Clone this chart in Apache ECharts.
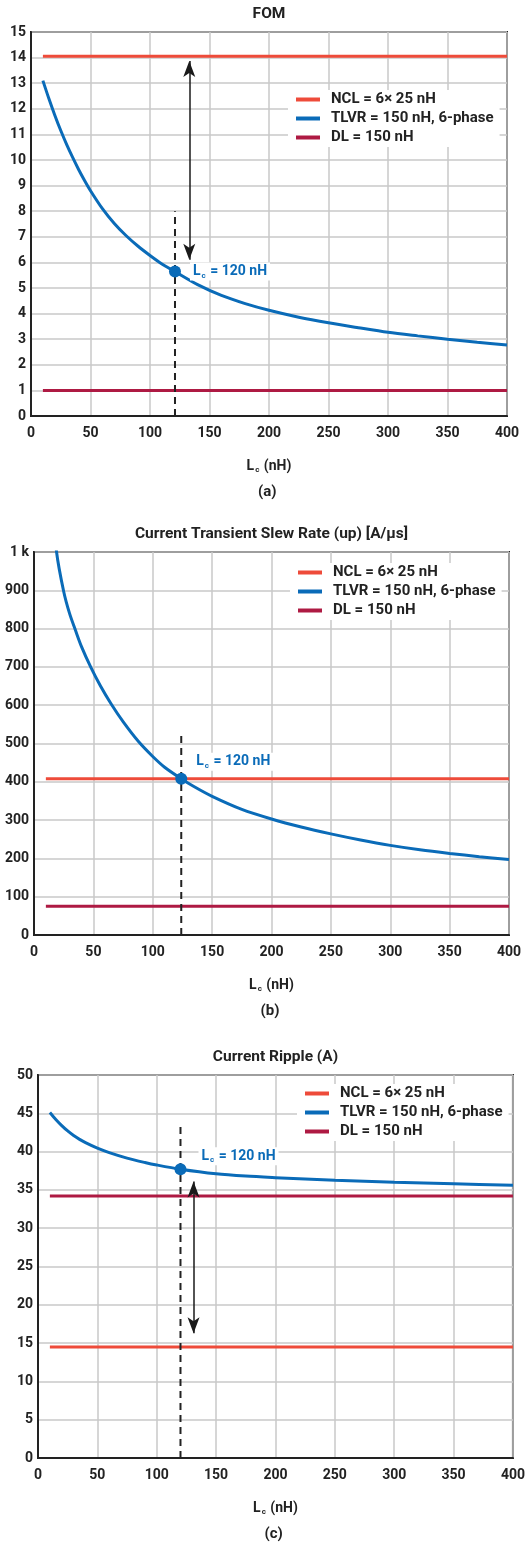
<!DOCTYPE html>
<html><head><meta charset="utf-8">
<script src="https://cdn.jsdelivr.net/npm/echarts@6/dist/echarts.min.js"></script>
<style>html,body{margin:0;padding:0;background:#fff}#c{width:528px;height:1543px}</style>
</head><body><div id="c"></div>
<script>
// ---------- DATA ----------
const seriesNames = ['NCL = 6\u00d7 25 nH', 'TLVR = 150 nH, 6-phase', 'DL = 150 nH'];
const titles = ['FOM', 'Current Transient Slew Rate (up) [A/\u00b5s]', 'Current Ripple (A)'];
const panelTags = ['(a)', '(b)', '(c)'];
const lineStart = 10, lineEnd = 400;

// (a) FOM
const lcA = [10,15,20,25,30,35,40,45,50,60,70,80,90,100,110,121,140,160,180,200,225,250,275,300,325,350,375,400];
const fomTLVR = [13.1,12.4,11.75,11.15,10.6,10.1,9.63,9.2,8.8,8.1,7.52,7.04,6.63,6.27,5.94,5.64,5.13,4.71,4.39,4.13,3.86,3.64,3.45,3.27,3.13,3.0,2.88,2.77];
const fomNCL = 14.05, fomDL = 1.0;
const fomMarker = [121, 5.64], fomDashTop = 8.0;
const fomArrow = [133, 13.87, 6.1];

// (b) slew rate
const lcB = [10,15,19,25,30,35,40,48,56,65,75,88,100,110,124,135,150,175,200,225,250,275,300,325,350,375,400];
const srTLVR = [1400,1150,1000,897,839,795,753,698,650,603,557,505,466,438,408,387,362,328,303,282,264,248,234,222.5,213,204.5,197];
const srNCL = 408, srDL = 75;
const srMarker = [124, 408], srDashTop = 530;

// (c) ripple
const lcC = [10,15,20,25,30,35,40,50,60,75,90,100,120,150,175,200,250,300,350,400];
const ripTLVR = [45.1,44.2,43.4,42.7,42.1,41.6,41.17,40.45,39.87,39.15,38.58,38.25,37.7,37.1,36.8,36.6,36.25,36.0,35.8,35.6];
const ripNCL = 14.5, ripDL = 34.2;
const ripMarker = [120, 37.7], ripDashTop = 43.3;
const ripArrow = [131, 36.1, 16.3];

// y axis ranges
const yMax = [15, 1000, 50], yInt = [1, 100, 5];

// ---------- STYLE ----------
const FONT = 'Roboto';
const C_NCL = '#EE4B3A', C_TLVR = '#0A6BB8', C_DL = '#AE1A43', C_DARK = '#222222';
const grids = [
  {left: 31, top: 32, width: 476, height: 384},
  {left: 34, top: 552, width: 475, height: 383},
  {left: 38, top: 1075, width: 475, height: 383}
];
const legendPos = [{left: 288, top: 90}, {left: 290, top: 563}, {left: 297, top: 1084}];

const chart = echarts.init(document.getElementById('c'), null, {renderer: 'canvas'});
const pairs = (xs, ys) => xs.map((x, i) => [x, ys[i]]);
const panels = [
  {tlvr: pairs(lcA, fomTLVR), ncl: fomNCL, dl: fomDL, mk: fomMarker, dash: fomDashTop, arrow: fomArrow},
  {tlvr: pairs(lcB, srTLVR), ncl: srNCL, dl: srDL, mk: srMarker, dash: srDashTop, arrow: null},
  {tlvr: pairs(lcC, ripTLVR), ncl: ripNCL, dl: ripDL, mk: ripMarker, dash: ripDashTop, arrow: ripArrow}
];

const labelRich = {
  m: {fontFamily: FONT, fontWeight: 'bold', fontSize: 14, color: C_TLVR, lineHeight: 16},
  s: {fontFamily: FONT, fontWeight: 'bold', fontSize: 8, color: C_TLVR, verticalAlign: 'bottom', lineHeight: 10, padding: [6, 1, 0, 1]}
};
const nameRich = {
  m: {fontFamily: FONT, fontWeight: 'bold', fontSize: 14, color: C_DARK, lineHeight: 16},
  s: {fontFamily: FONT, fontWeight: 'bold', fontSize: 8, color: C_DARK, verticalAlign: 'bottom', lineHeight: 10, padding: [6, 1, 0, 1]}
};

const option = {
  animation: false,
  backgroundColor: '#fff',
  title: titles.map((t, i) => ({
    text: t, left: grids[i].left + grids[i].width / 2, top: grids[i].top - 26, textAlign: 'center', padding: 0,
    textStyle: {fontFamily: FONT, fontWeight: 'bold', fontSize: 15.5, color: C_DARK}
  })),
  legend: legendPos.map((p, i) => ({
    data: seriesNames, orient: 'vertical', left: p.left, top: p.top, icon: 'rect',
    itemWidth: 24, itemHeight: 4, itemGap: 4, backgroundColor: '#fff', padding: [2, 6, 2, 8],
    textStyle: {fontFamily: FONT, fontWeight: 'bold', fontSize: 15, color: C_DARK, padding: [0, 0, 0, 6]},
    selectedMode: false
  })),
  grid: grids.map(g => Object.assign({show: true, borderColor: C_DARK, borderWidth: 2, backgroundColor: 'transparent'}, g)),
  xAxis: grids.map((g, i) => ({
    type: 'value', gridIndex: i, min: 0, max: 400, interval: 50,
    name: '{m|L}{s|c}{m| (nH)}', nameLocation: 'middle', nameGap: 42,
    nameTextStyle: {rich: nameRich},
    axisLine: {show: true, lineStyle: {color: C_DARK, width: 2}},
    axisTick: {show: false},
    axisLabel: {fontFamily: FONT, fontWeight: 'bold', fontSize: 14, color: C_DARK, margin: 10},
    splitLine: {show: true, lineStyle: {color: '#c9c9c9', width: 1.5}}
  })),
  yAxis: grids.map((g, i) => ({
    type: 'value', gridIndex: i, min: 0, max: yMax[i], interval: yInt[i],
    axisLine: {show: true, lineStyle: {color: C_DARK, width: 2}},
    axisTick: {show: false},
    axisLabel: {fontFamily: FONT, fontWeight: 'bold', fontSize: 14, color: C_DARK, margin: 5,
      formatter: v => (i === 1 && v === 1000) ? '1 k' : String(v)},
    splitLine: {show: true, lineStyle: {color: '#c9c9c9', width: 1.5}}
  })),
  graphic: panelTags.map((t, i) => ({
    type: 'text', left: grids[i].left + grids[i].width / 2 - 11, top: grids[i].top + grids[i].height + 69,
    style: {text: t, font: 'bold 15px ' + FONT, fill: C_DARK}
  })),
  series: []
};

panels.forEach((p, i) => {
  option.series.push({
    name: seriesNames[1], type: 'line', xAxisIndex: i, yAxisIndex: i, data: p.tlvr,
    smooth: 0.3, showSymbol: false, symbol: 'none', clip: true,
    lineStyle: {color: C_TLVR, width: 3}, itemStyle: {color: C_TLVR}, z: 3
  });
  option.series.push({
    name: seriesNames[0], type: 'line', xAxisIndex: i, yAxisIndex: i,
    data: [[lineStart, p.ncl], [lineEnd, p.ncl]], showSymbol: false, symbol: 'none',
    lineStyle: {color: C_NCL, width: 3}, itemStyle: {color: C_NCL}, z: 3
  });
  option.series.push({
    name: seriesNames[2], type: 'line', xAxisIndex: i, yAxisIndex: i,
    data: [[lineStart, p.dl], [lineEnd, p.dl]], showSymbol: false, symbol: 'none',
    lineStyle: {color: C_DL, width: 3}, itemStyle: {color: C_DL}, z: 3
  });
  const dashSeries = {
    name: 'dash' + i, type: 'line', xAxisIndex: i, yAxisIndex: i,
    data: [[p.mk[0], 0], [p.mk[0], p.dash]], showSymbol: false, symbol: 'none',
    lineStyle: {color: C_DARK, width: 2, type: [7, 5]}, z: 4
  };
  if (p.arrow) {
    dashSeries.markLine = {
      silent: true, symbol: ['arrow', 'arrow'], symbolSize: [9, 16],
      lineStyle: {color: '#1a1a1a', width: 1.5, type: 'solid'},
      label: {show: false},
      data: [[{coord: [p.arrow[0], p.arrow[1]]}, {coord: [p.arrow[0], p.arrow[2]]}]]
    };
  }
  option.series.push(dashSeries);
  option.series.push({
    name: 'marker' + i, type: 'scatter', xAxisIndex: i, yAxisIndex: i,
    data: [p.mk], symbolSize: 12, itemStyle: {color: C_TLVR, opacity: 1}, z: 6,
    label: {
      show: true, position: 'right', distance: 9,
      offset: i === 0 ? [0, 0] : (i === 1 ? [-3, -17] : [3, -13]),
      formatter: '{m|L}{s|c}{m| = 120 nH}', backgroundColor: '#fff', padding: [1, 3, 1, 3],
      rich: labelRich
    }
  });
});

chart.setOption(option);
</script></body></html>
